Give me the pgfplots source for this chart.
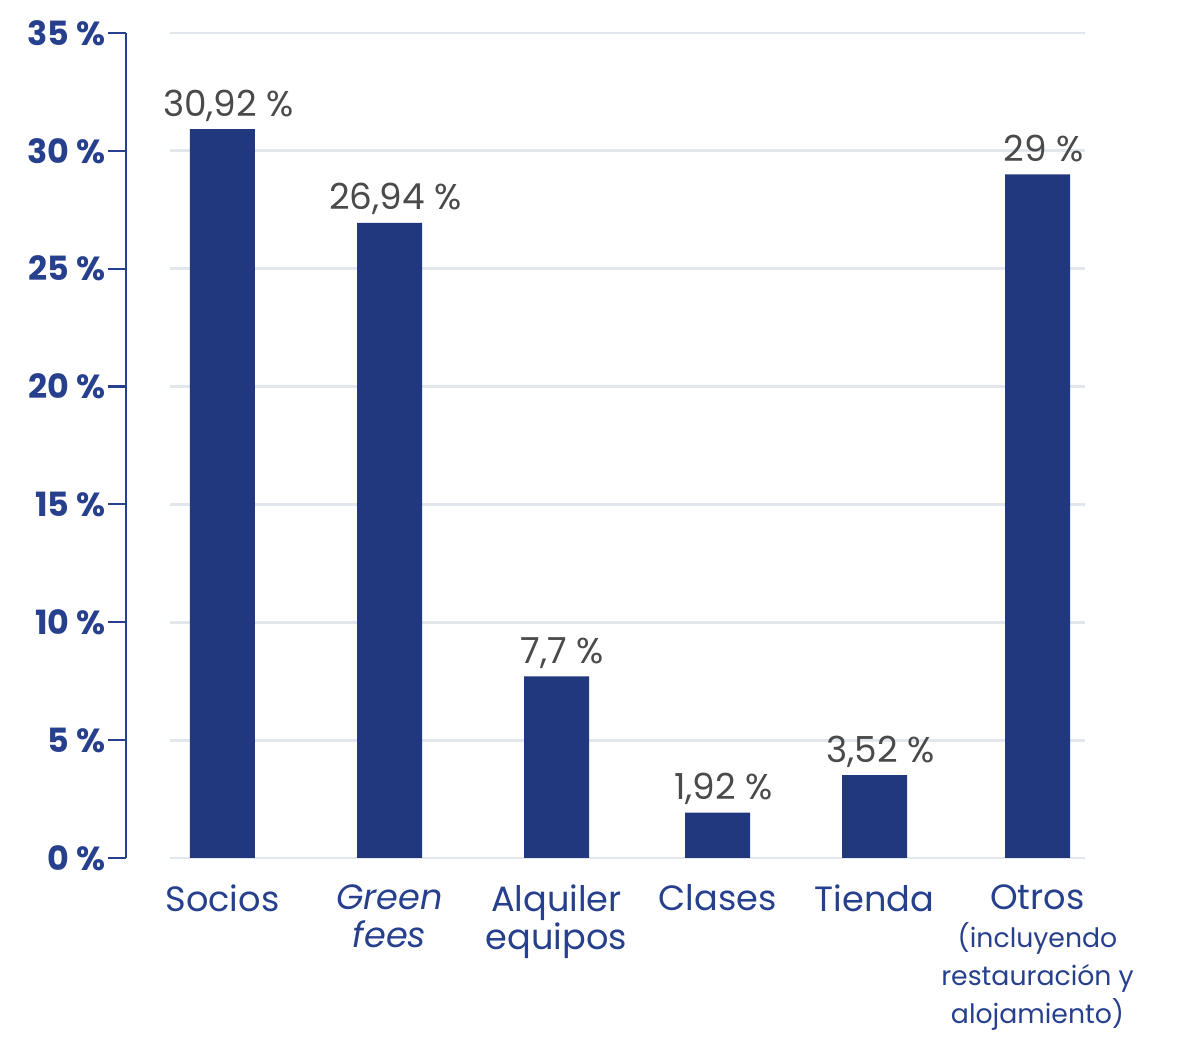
\documentclass[border=0pt]{standalone}
\usepackage{fontspec}
\setmainfont{Poppins}
\usepackage{pgfplots}
\usepackage{pgfplotstable}
\pgfplotsset{compat=1.18}
\definecolor{navy}{HTML}{21387F}
\definecolor{ticknavy}{HTML}{27408E}
\definecolor{gridgray}{HTML}{E2E6ED}
\definecolor{lblgray}{HTML}{4A4A4A}
\pgfplotstableread{
x y label
222.5 30.92 {30,92 \%}
389.5 26.94 {26,94 \%}
556.5 7.7 {7,7 \%}
717.5 1.92 {1,92 \%}
874.5 3.52 {3,52 \%}
1037.5 29 {29 \%}
}\datatable
\newcommand{\sm}{\fontsize{7.6}{10}\selectfont}
\newcommand{\xfont}{\fontsize{10}{10.8}\selectfont\lineskiplimit=-20pt\relax\lineskip=0pt\relax}
\begin{document}
\begin{tikzpicture}
\useasboundingbox (-1.26,-1.94) rectangle (10.74,8.58);
\begin{axis}[
  at={(0,0)}, anchor=south west, scale only axis,
  width=9.59cm, height=8.25cm,
  xmin=126, xmax=1085, ymin=0, ymax=35,
  axis lines*=left,
  x axis line style={draw=none},
  y axis line style={ticknavy, line width=0.6pt},
  ytick={0,5,...,35},
  yticklabel={\pgfmathprintnumber{\tick}~\%},
  yticklabel style={font=\bfseries\fontsize{9.5}{10}\selectfont, text=ticknavy, xshift=0.1cm},
  y tick style={ticknavy, line width=0.6pt},
  tick align=outside, major tick length=0.18cm,
  xtick={222.5,389.5,556.5,717.5,874.5,1037.5},
  xticklabels={Socios, {\itshape Green\\\itshape fees}, {Alquiler\\equipos}, Clases, Tienda, {Otros\\\sm(incluyendo\\\sm restauración y\\\sm alojamiento)}},
  x tick style={draw=none},
  xticklabel style={font=\xfont, text=ticknavy, align=center, anchor=north, inner sep=0pt, yshift=-0.08cm},
  clip=false,
  /pgf/number format/assume math mode=true,
]
\pgfplotsinvokeforeach{0,5,10,15,20,25,30,35}{
  \draw[gridgray, line width=0.8pt] (axis cs:170,#1) -- (axis cs:1085,#1);
}
\addplot[ybar, bar width=0.65cm, fill=navy, draw=none,
  nodes near coords, point meta=explicit symbolic,
  nodes near coords style={font=\fontsize{10.2}{12}\selectfont, text=lblgray, anchor=base, yshift=0.13cm, xshift=0.06cm}]
  table[x=x, y=y, meta=label]{\datatable};
\end{axis}
\end{tikzpicture}
\end{document}
